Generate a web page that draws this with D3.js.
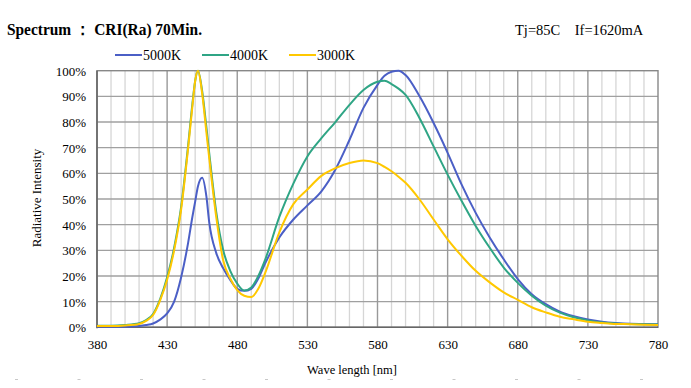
<!DOCTYPE html>
<html><head><meta charset="utf-8">
<script src="https://cdn.jsdelivr.net/npm/d3@7"></script>
<style>body{margin:0;background:#fff}svg{display:block}</style>
</head><body>
<svg id="c" width="691" height="388"></svg>
<script>
const wavelengths = [380,390,400,410,415,420,425,430,435,440,445,448,450,452,455,458,460,465,470,475,480,485,490,495,500,510,520,530,540,550,560,570,580,585,590,595,600,610,620,630,640,650,660,670,680,690,700,710,720,730,740,750,760,770,780];
const s5000K = [0.3,0.2,0.2,0.5,0.9,1.5,3,5.4,10,19.5,33,43,49,55,58.3,51,41,29,23,18.5,15,14.2,15,19,25,35,42,47.5,53,61.5,73,85.5,94.5,98,99.6,100,98.3,90,79.6,68,55.6,44.6,35,26.5,18.8,12.9,9,6.1,4.3,3,2.2,1.7,1.4,1.3,1.2];
const s4000K = [0.6,0.6,0.9,1.6,2.8,5.2,11,19.5,31,47,71,87,96,100,92,78,68,45,30,22,17,14.3,15.5,20,26.5,43,56,66.6,73.7,80,86.7,92.5,95.7,96.1,94.8,93,90.6,81.5,70.5,59.5,49.2,39.5,31,23.3,17.3,12.3,8.4,5.7,3.9,2.7,1.9,1.5,1.3,1.2,1.1];
const s3000K = [0.5,0.5,0.7,1.3,2.5,4.8,10.5,18.5,30,46,70,86,96,100,91,76,66,43,26,19,14.5,12.3,11.8,15,21.3,37,48,53.7,59,62,64,65,64,62.5,60.8,58.7,56.3,49.8,42,34.3,27.8,22,17.5,13.6,10.7,7.8,5.8,4.1,3.1,2.2,1.7,1.3,1.2,1.0,0.9];
const seriesNames = ["5000K","4000K","3000K"];
const seriesColors = ["#4b5fc6","#2fa585","#ffc800"];
const xTicks = [380,430,480,530,580,630,680,730,780];
const yTicks = [0,10,20,30,40,50,60,70,80,90,100];

const svg = d3.select("#c");
const L=97, R=658, T=70.7, B=327.3;
const x = d3.scaleLinear().domain([380,780]).range([L,R]);
const y = d3.scaleLinear().domain([0,100]).range([B,T]);
const serif = "'Liberation Serif','Times New Roman',serif";

// faint dotted page line
svg.append("line").attr("x1",15).attr("x2",691).attr("y1",379.5).attr("y2",379.5)
  .attr("stroke","#c8c8c8").attr("stroke-width",1).attr("stroke-dasharray","3,59.5");

// minor vertical grid
const minor = d3.range(390,780,10).filter(v=>v%50!==30);
svg.append("g").selectAll("line").data(minor).join("line")
  .attr("x1",d=>x(d)).attr("x2",d=>x(d)).attr("y1",T).attr("y2",B)
  .attr("stroke","#d6d6d6").attr("stroke-width",1.3);
// horizontal grid
svg.append("g").selectAll("line").data(yTicks.slice(1,-1)).join("line")
  .attr("x1",L).attr("x2",R).attr("y1",d=>y(d)).attr("y2",d=>y(d))
  .attr("stroke","#a0a0a0").attr("stroke-width",1.3);
// major vertical grid
svg.append("g").selectAll("line").data(xTicks.slice(1,-1)).join("line")
  .attr("x1",d=>x(d)).attr("x2",d=>x(d)).attr("y1",T).attr("y2",B)
  .attr("stroke","#999").attr("stroke-width",1.4);
// frame
svg.append("rect").attr("x",L).attr("y",T).attr("width",R-L).attr("height",B-T)
  .attr("fill","none").attr("stroke","#888").attr("stroke-width",1.4);
svg.append("line").attr("x1",L).attr("x2",L).attr("y1",T).attr("y2",B+1).attr("stroke","#666").attr("stroke-width",1.6);
svg.append("line").attr("x1",L).attr("x2",R).attr("y1",B).attr("y2",B).attr("stroke","#666").attr("stroke-width",1.6);

// axes (labels only)
const xAxis = d3.axisBottom(x).tickValues(xTicks).tickSize(0).tickPadding(0);
const gx = svg.append("g").attr("transform",`translate(0,${B})`).call(xAxis);
gx.select(".domain").remove();
gx.selectAll("text").attr("font-family",serif).attr("font-size",13).attr("fill","#000").attr("dy",null).attr("y",22);
const yAxis = d3.axisLeft(y).tickValues(yTicks).tickSize(0).tickPadding(0).tickFormat(d=>d+"%");
const gy = svg.append("g").attr("transform",`translate(86,0)`).call(yAxis);
gy.select(".domain").remove();
gy.selectAll("text").attr("font-family",serif).attr("font-size",13).attr("fill","#000").attr("x",0).attr("dy","0.35em");

// series
const series = [s5000K,s4000K,s3000K];
const line = d3.line().x((d,i)=>x(wavelengths[i])).y(d=>y(d)).curve(d3.curveMonotoneX);
series.forEach((s,k)=>{
  svg.append("path").datum(s).attr("d",line).attr("fill","none")
    .attr("stroke",seriesColors[k]).attr("stroke-width",2);
});

// legend
const legX = [115,202,289];
seriesNames.forEach((n,k)=>{
  svg.append("line").attr("x1",legX[k]).attr("x2",legX[k]+27).attr("y1",55).attr("y2",55)
    .attr("stroke",seriesColors[k]).attr("stroke-width",2);
  svg.append("text").attr("x",legX[k]+28).attr("y",59.5).text(n)
    .attr("font-family",serif).attr("font-size",14);
});

// titles
svg.append("text").attr("x",7).attr("y",35).text("Spectrum ： CRI(Ra) 70Min.")
  .attr("font-family",serif).attr("font-weight","bold").attr("font-size",17)
  .attr("textLength",195).attr("lengthAdjust","spacingAndGlyphs");
svg.append("text").attr("x",515).attr("y",35).attr("xml:space","preserve").text("Tj=85C    If=1620mA")
  .attr("font-family",serif).attr("font-size",14.5);
svg.append("text").attr("x",352).attr("y",374).attr("text-anchor","middle").text("Wave length [nm]")
  .attr("font-family",serif).attr("font-size",12.5);
svg.append("text").attr("transform","translate(41,198) rotate(-90)").attr("text-anchor","middle")
  .text("Radiative Intensity").attr("font-family",serif).attr("font-size",13);
</script>
</body></html>
